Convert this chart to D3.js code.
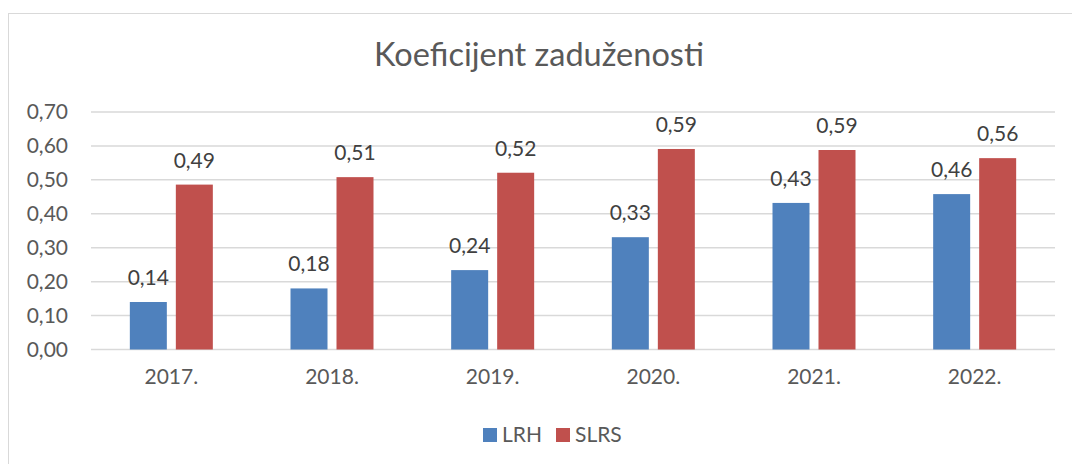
<!DOCTYPE html>
<html><head><meta charset="utf-8">
<script src="https://cdn.jsdelivr.net/npm/d3@7"></script>
<style>html,body{margin:0;padding:0;background:#fff;}svg{display:block;}</style>
</head><body>
<svg id="c" width="1072" height="464"></svg>
<script>
const categories = ["2017.", "2018.", "2019.", "2020.", "2021.", "2022."];
const seriesNames = ["LRH", "SLRS"];
const lrh  = [0.14, 0.18, 0.234, 0.331, 0.432, 0.458];
const slrs = [0.486, 0.508, 0.521, 0.591, 0.588, 0.564];
const lrhLabels  = ["0,14", "0,18", "0,24", "0,33", "0,43", "0,46"];
const slrsLabels = ["0,49", "0,51", "0,52", "0,59", "0,59", "0,56"];
const yTicks = [0, 0.1, 0.2, 0.3, 0.4, 0.5, 0.6, 0.7];
const colors = ["#4f81bd", "#c0504d"];
const title = "Koeficijent zaduženosti";

(function () {
const FONT = "Lato, 'Open Sans', sans-serif";
const TXT = "#595959";
const FS = "21px";
const svg = d3.select("#c");

svg.append("rect").attr("x", 8.5).attr("y", 13.5).attr("width", 1080).attr("height", 480)
  .attr("fill", "#fff").attr("stroke", "#d9d9d9").attr("stroke-width", 1);

const pl = 91, pr = 1055, pt = 112, pb = 349.5;
const x = d3.scaleBand().domain(categories).range([pl, pr]).paddingInner(0).paddingOuter(0);
const y = d3.scaleLinear().domain([0, 0.7]).range([pb, pt]);

svg.append("g").selectAll("line").data(yTicks).join("line")
  .attr("x1", pl).attr("x2", pr)
  .attr("y1", d => y(d)).attr("y2", d => y(d))
  .attr("stroke", "#d9d9d9").attr("stroke-width", 1.5);

const yAxis = d3.axisLeft(y).tickValues(yTicks).tickSize(0).tickPadding(0)
  .tickFormat(d => d3.format(".2f")(d).replace(".", ","));
const yg = svg.append("g").attr("transform", `translate(${68},0)`).call(yAxis);
yg.select(".domain").remove();
yg.selectAll("text").attr("fill", TXT).style("font-family", FONT).style("font-size", FS);

const xAxis = d3.axisBottom(x).tickSize(0).tickPadding(0);
const xg = svg.append("g").attr("transform", `translate(0,${pb + 20})`).call(xAxis);
xg.select(".domain").remove();
xg.selectAll("text").attr("fill", TXT).style("font-family", FONT).style("font-size", FS);

const barW = 37, gap = 9;
const sub = d3.scaleOrdinal().domain(seriesNames).range([-(gap / 2 + barW), gap / 2]);
const series = [
  { name: "LRH", values: lrh, labels: lrhLabels, color: colors[0] },
  { name: "SLRS", values: slrs, labels: slrsLabels, color: colors[1] }
];

series.forEach(s => {
  const g = svg.append("g");
  const data = categories.map((c, i) => ({ c, v: s.values[i], l: s.labels[i] }));
  g.selectAll("rect").data(data).join("rect")
    .attr("x", d => x(d.c) + x.bandwidth() / 2 + sub(s.name))
    .attr("y", d => y(d.v))
    .attr("width", barW)
    .attr("height", d => y(0) - y(d.v))
    .attr("fill", s.color);
  g.selectAll("text").data(data).join("text")
    .attr("x", d => x(d.c) + x.bandwidth() / 2 + sub(s.name) + barW / 2)
    .attr("y", d => y(d.v) - 17)
    .attr("text-anchor", "middle")
    .attr("fill", "#404040")
    .style("font-family", FONT).style("font-size", FS)
    .text(d => d.l);
});

svg.append("text").attr("x", 539).attr("y", 66).attr("text-anchor", "middle")
  .attr("fill", TXT).style("font-family", FONT).style("font-size", "32.5px").text(title);

const legend = svg.append("g");
const legX = [483, 556];
series.forEach((s, i) => {
  legend.append("rect").attr("x", legX[i]).attr("y", 428).attr("width", 14).attr("height", 14).attr("fill", s.color);
  legend.append("text").attr("x", legX[i] + 19).attr("y", 442)
    .attr("fill", TXT).style("font-family", FONT).style("font-size", FS).text(s.name);
});
})();
</script>
</body></html>
